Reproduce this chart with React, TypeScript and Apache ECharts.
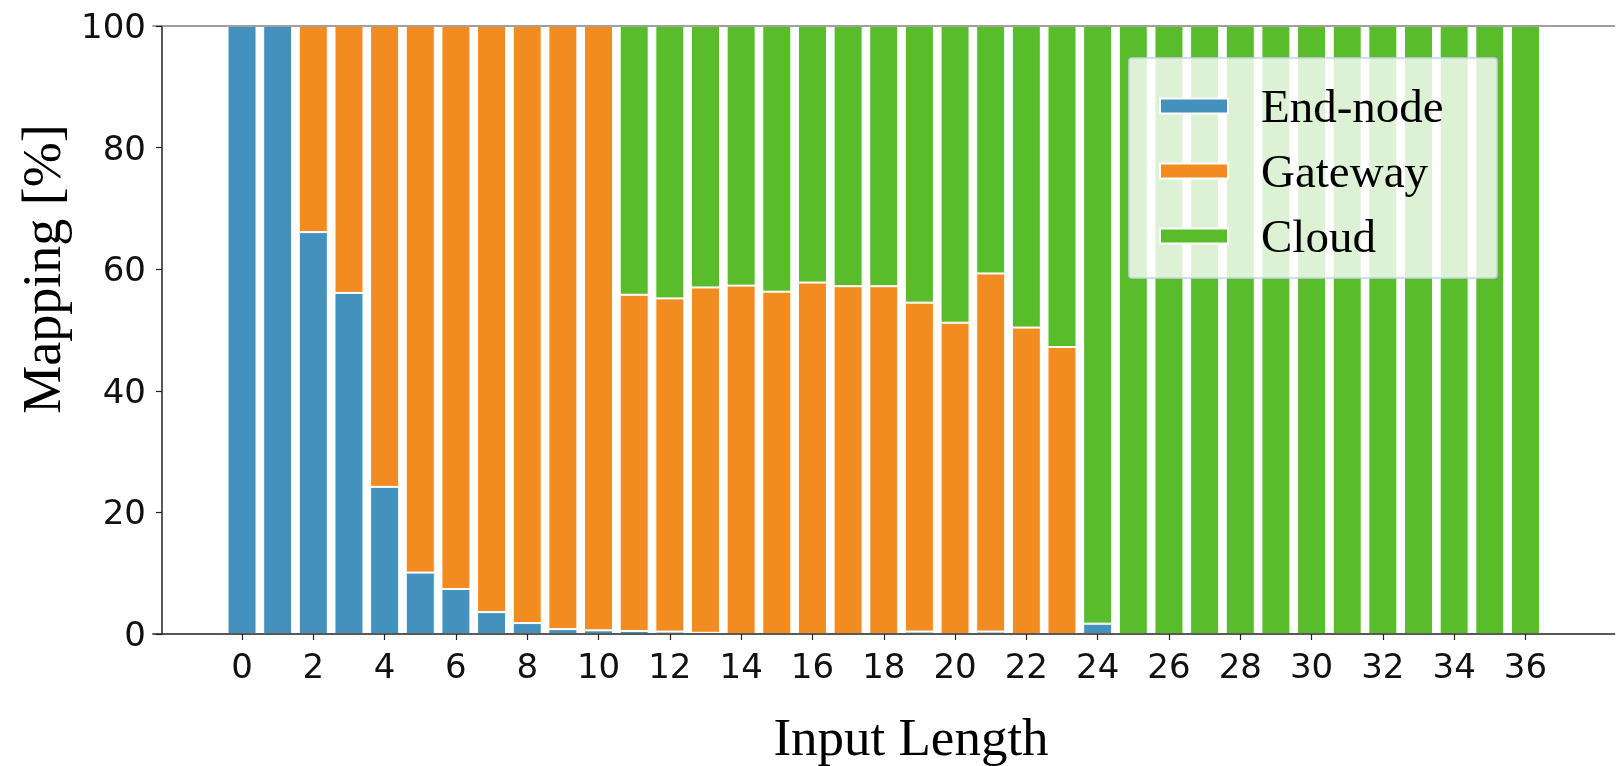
import React, { useEffect, useRef } from "react";
import * as echarts from "echarts";

const inputLength = [0, 1, 2, 3, 4, 5, 6, 7, 8, 9, 10, 11, 12, 13, 14, 15, 16, 17, 18, 19, 20, 21, 22, 23, 24, 25, 26, 27, 28, 29, 30, 31, 32, 33, 34, 35, 36];
const endNode = [100, 100, 66.1, 56.1, 24.2, 10.1, 7.4, 3.6, 1.8, 0.8, 0.6, 0.5, 0.4, 0.2, 0, 0, 0, 0, 0, 0.4, 0, 0.4, 0, 0, 1.7, 0, 0, 0, 0, 0, 0, 0, 0, 0, 0, 0, 0];
const gateway = [0, 0, 33.9, 43.9, 75.8, 89.9, 92.6, 96.4, 98.2, 99.2, 99.4, 55.3, 54.8, 56.8, 57.3, 56.3, 57.8, 57.2, 57.2, 54.1, 51.2, 58.9, 50.4, 47.2, 0, 0, 0, 0, 0, 0, 0, 0, 0, 0, 0, 0, 0];
const cloud = [0, 0, 0, 0, 0, 0, 0, 0, 0, 0, 0, 44.2, 44.8, 43.0, 42.7, 43.7, 42.2, 42.8, 42.8, 45.5, 48.8, 40.7, 49.6, 52.8, 98.3, 100, 100, 100, 100, 100, 100, 100, 100, 100, 100, 100, 100];
// axis domain (with empty padding slots on both sides, as in the original plot)
const axisCategories = ["-2", "-1", "0", "1", "2", "3", "4", "5", "6", "7", "8", "9", "10", "11", "12", "13", "14", "15", "16", "17", "18", "19", "20", "21", "22", "23", "24", "25", "26", "27", "28", "29", "30", "31", "32", "33", "34", "35", "36", "37", "38"];
const xTickLabels = ["0", "2", "4", "6", "8", "10", "12", "14", "16", "18", "20", "22", "24", "26", "28", "30", "32", "34", "36"];
const seriesNames = ["End-node", "Gateway", "Cloud"];
const seriesColors = ["#4391BC", "#F38C20", "#58BC2B"];
const xTitle = "Input Length";
const yTitle = "Mapping [%]";

export default function App() {
  const ref = useRef<HTMLDivElement>(null);
  useEffect(() => {
    if (!ref.current) return;
    const chart = echarts.init(ref.current, null, { renderer: "svg" });
    const mk = (vals: number[]) => inputLength.map((x, i) => [String(x), vals[i]]);
    const allVals = [endNode, gateway, cloud];
    const showTick = (_i: number, v: string) => xTickLabels.indexOf(String(v)) >= 0;
    const labelFont = { fontFamily: "DejaVu Sans", fontSize: 34, color: "#111" };
    chart.setOption({
      animation: false,
      grid: { left: 152.9, top: 26, right: 5.4, bottom: 132, containLabel: false, outerBoundsMode: "none" },
      xAxis: [
        {
          type: "category",
          data: axisCategories,
          boundaryGap: true,
          position: "bottom",
          z: 10,
          axisLine: { show: true, onZero: false, lineStyle: { color: "#222", width: 1.5 } },
          axisTick: { show: true, length: 6, alignWithLabel: true, interval: showTick, lineStyle: { color: "#222", width: 1.2 } },
          axisLabel: { interval: showTick, margin: 15, ...labelFont },
          splitLine: { show: false },
        },
        {
          type: "category",
          data: axisCategories,
          boundaryGap: true,
          position: "top",
          z: 10,
          axisLine: { show: true, onZero: false, lineStyle: { color: "#808080", width: 1.5 } },
          axisTick: { show: false },
          axisLabel: { show: false },
          splitLine: { show: false },
        },
      ],
      yAxis: {
        type: "value",
        min: 0,
        max: 100,
        interval: 20,
        offset: -9.1,
        z: 10,
        axisLine: { show: true, onZero: false, lineStyle: { color: "#222", width: 1.5 } },
        axisTick: { show: true, length: 6, lineStyle: { color: "#222", width: 1.2 } },
        axisLabel: { margin: 16, ...labelFont },
        splitLine: { show: false },
      },
      legend: {
        orient: "vertical",
        left: 1159,
        top: 81,
        itemWidth: 68,
        itemHeight: 15,
        itemGap: 15,
        icon: "rect",
        padding: 0,
        z: 6,
        textStyle: { fontFamily: "Liberation Serif", fontSize: 47, color: "#000", lineHeight: 50, padding: [0, 0, 0, 28] },
        data: seriesNames,
      },
      graphic: [
        {
          type: "rect",
          z: 5,
          shape: { x: 1129, y: 58, width: 368, height: 220, r: 3 },
          style: { fill: "rgba(255,255,255,0.8)", stroke: "#c4d4e6", lineWidth: 1.5 },
        },
        {
          type: "text",
          x: 42,
          y: 269,
          rotation: Math.PI / 2,
          style: { text: yTitle, fontFamily: "Liberation Serif", fontSize: 54, fill: "#000", align: "center", verticalAlign: "middle" },
        },
        {
          type: "text",
          x: 911,
          y: 737,
          style: { text: xTitle, fontFamily: "Liberation Serif", fontSize: 53, fill: "#000", align: "center", verticalAlign: "middle" },
        },
      ],
      series: seriesNames.map((name, k) => ({
        name,
        type: "bar",
        stack: "total",
        barWidth: 29,
        xAxisIndex: 0,
        yAxisIndex: 0,
        itemStyle: { color: seriesColors[k], borderColor: "#ffffff", borderWidth: 1 },
        data: mk(allVals[k]),
      })),
    });
    return () => chart.dispose();
  }, []);
  return <div ref={ref} style={{ position: "fixed", left: 0, top: 0, width: 1620, height: 766 }} />;
}
